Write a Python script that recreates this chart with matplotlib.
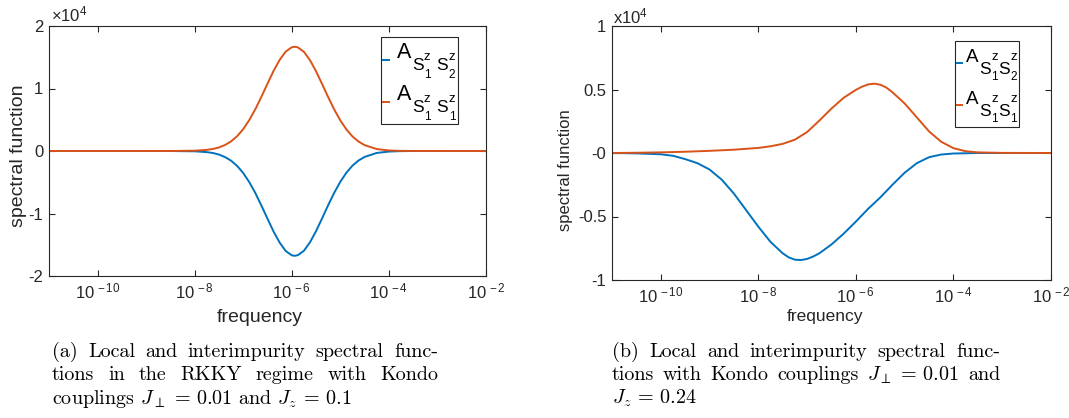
import matplotlib
matplotlib.use("Agg")
import matplotlib.pyplot as plt
import numpy as np
from matplotlib.ticker import NullLocator
from matplotlib.patches import Rectangle

plt.rcParams['font.family'] = ['Liberation Sans', 'DejaVu Sans']
plt.rcParams['mathtext.fontset'] = 'custom'
plt.rcParams['mathtext.rm'] = 'Liberation Sans'
plt.rcParams['mathtext.it'] = 'Liberation Sans'
plt.rcParams['mathtext.bf'] = 'Liberation Sans:bold'

# ---------------- data ----------------
# panel (a): log10(frequency) and values in units of 1e4
exp_a = [-11, -10, -9, -8.5, -8, -7.75, -7.625, -7.5, -7.375, -7.25, -7.125, -7, -6.875,
         -6.75, -6.625, -6.5, -6.375, -6.25, -6.125, -6, -5.94, -5.875, -5.75, -5.625,
         -5.5, -5.375, -5.25, -5.125, -5, -4.875, -4.75, -4.625, -4.5, -4.25, -4,
         -3.75, -3.5, -3, -2]
a_local = [0, 0, 0, 0.0002, 0.005, 0.018, 0.032, 0.057, 0.096, 0.154, 0.237, 0.350, 0.496,
           0.669, 0.869, 1.077, 1.282, 1.457, 1.591, 1.660, 1.668, 1.658, 1.587, 1.453,
           1.275, 1.071, 0.861, 0.663, 0.489, 0.345, 0.233, 0.151, 0.094, 0.031, 0.009,
           0.002, 0.0004, 0, 0]
a_inter = [0, 0, 0, -0.0002, -0.005, -0.018, -0.032, -0.057, -0.097, -0.155, -0.239, -0.352, -0.499,
           -0.673, -0.874, -1.083, -1.289, -1.465, -1.600, -1.669, -1.677, -1.667, -1.596, -1.461,
           -1.282, -1.077, -0.866, -0.667, -0.492, -0.347, -0.234, -0.152, -0.095, -0.031, -0.009,
           -0.002, -0.0004, 0, 0]

# panel (b)
exp_b_local = [-11, -10.5, -10, -9.5, -9, -8.5, -8, -7.75, -7.5, -7.25, -7, -6.75, -6.5,
               -6.25, -6, -5.875, -5.75, -5.625, -5.5, -5.375, -5.25, -5, -4.75, -4.5, -4.25,
               -4, -3.75, -3.5, -3, -2]
b_local = [0.0, 0.002, 0.005, 0.010, 0.017, 0.026, 0.040, 0.053, 0.072, 0.105, 0.165, 0.255,
           0.35, 0.435, 0.497, 0.522, 0.540, 0.546, 0.538, 0.515, 0.478, 0.39, 0.28, 0.17, 0.088,
           0.038, 0.014, 0.005, 0.001, 0.0]
exp_b_inter = [-11, -10.5, -10, -9.75, -9.5, -9.25, -9, -8.75, -8.5, -8.25, -8, -7.75, -7.5,
               -7.375, -7.25, -7.125, -7, -6.875, -6.75, -6.5, -6.25, -6, -5.75, -5.5, -5.25,
               -5, -4.75, -4.5, -4.25, -4, -3.5, -2]
b_inter = [0, -0.003, -0.01, -0.022, -0.048, -0.08, -0.13, -0.21, -0.32, -0.45, -0.58, -0.70,
           -0.79, -0.822, -0.840, -0.843, -0.834, -0.815, -0.79, -0.72, -0.635, -0.54, -0.44,
           -0.35, -0.25, -0.155, -0.08, -0.033, -0.012, -0.004, 0, 0]

xtick_exps = [-10, -8, -6, -4, -2]
xtick_labels = [r'$10^{\,-10}$', r'$10^{\,-8}$', r'$10^{\,-6}$', r'$10^{\,-4}$', r'$10^{\,-2}$']
yticks_a = [-2, -1, 0, 1, 2]
yticklabels_a = ['-2', '-1', '0', '1', '2']
yticks_b = [-1, -0.5, 0, 0.5, 1]
yticklabels_b = ['-1', '-0.5', '-0', '0.5', '1']
# legend labels: A_{S^z_1 S^z_2} and A_{S^z_1 S^z_1}
legend_sub_inter = ['1', '2']
legend_sub_local = ['1', '1']

BLUE = '#0072BD'
ORANGE = '#D95319'
DARK = '#262626'
W, H = 1069, 418

fig = plt.figure(figsize=(W / 100, H / 100), dpi=100)


def ax_from_px(x0, x1, ytop, ybot):
    return fig.add_axes([x0 / W, (H - ybot) / H, (x1 - x0) / W, (ybot - ytop) / H])


def style(ax, fs):
    ax.set_xscale('log')
    ax.set_xlim(1e-11, 1e-2)
    ax.set_xticks([10.0 ** e for e in xtick_exps])
    ax.set_xticklabels(xtick_labels)
    ax.xaxis.set_minor_locator(NullLocator())
    ax.tick_params(which='both', direction='in', top=True, right=True, length=4,
                   width=0.8, colors=DARK, labelsize=fs, pad=4)
    for s in ax.spines.values():
        s.set_color(DARK)
        s.set_linewidth(0.8)


# ---------------- panel (a) ----------------
ax1 = ax_from_px(49, 486, 26, 276)
fa = 10.0 ** np.array(exp_a)
ax1.plot(fa, np.array(a_inter) * 1e4, color=BLUE, lw=1.4)
ax1.plot(fa, np.array(a_local) * 1e4, color=ORANGE, lw=1.4)
style(ax1, 12)
ax1.set_ylim(-2e4, 2e4)
ax1.set_yticks([v * 1e4 for v in yticks_a])
ax1.set_yticklabels(yticklabels_a)
ax1.set_ylabel('spectral function', fontsize=14, color=DARK)
ax1.yaxis.set_label_coords(-0.05, 0.48)
ax1.set_xlabel('frequency', fontsize=14, color=DARK)
ax1.xaxis.set_label_coords(0.483, -0.13)
ax1.text(0.004, 1.008, r'$\times10^{4}$', transform=ax1.transAxes, fontsize=12,
         color=DARK, ha='left', va='bottom')

# ---------------- panel (b) ----------------
ax2 = ax_from_px(612, 1051, 26, 280)
ax2.plot(10.0 ** np.array(exp_b_inter), np.array(b_inter) * 1e4, color=BLUE, lw=1.4)
ax2.plot(10.0 ** np.array(exp_b_local), np.array(b_local) * 1e4, color=ORANGE, lw=1.4)
style(ax2, 12)
ax2.set_ylim(-1e4, 1e4)
ax2.set_yticks([v * 1e4 for v in yticks_b])
ax2.set_yticklabels(yticklabels_b)
ax2.set_ylabel('spectral function', fontsize=12, color=DARK)
ax2.yaxis.set_label_coords(-0.089, 0.433)
ax2.set_xlabel('frequency', fontsize=12.5, color=DARK)
ax2.xaxis.set_label_coords(0.485, -0.115)
ax2.text(0.002, 1.0, r'x10$^{4}$', transform=ax2.transAxes, fontsize=12,
         color=DARK, ha='left', va='bottom')

# ---------------- overlay in pixel coordinates (legends, captions) ----------------
ov = fig.add_axes([0, 0, 1, 1], zorder=10)
ov.set_xlim(0, W)
ov.set_ylim(H, 0)
ov.axis('off')
ov.patch.set_alpha(0)
renderer = fig.canvas.get_renderer()


def tw(t):
    return t.get_window_extent(renderer).width


def comp_label(x, base, subs, p, gap):
    tA = ov.text(x, base, 'A', fontsize=p['A'], color='black', va='baseline', ha='left')
    xc = x + tw(tA) + 0.5
    for d in subs:
        tS = ov.text(xc, base + p['dS'], 'S', fontsize=p['S'], color='black',
                     va='baseline', ha='left')
        xr = xc + tw(tS) + 0.5
        tz = ov.text(xr, base + p['dz'], 'z', fontsize=p['z'], color='black',
                     va='baseline', ha='left')
        td = ov.text(xr, base + p['dd'], d, fontsize=p['d'], color='black',
                     va='baseline', ha='left')
        xc = max(xr + tw(tz), xr + tw(td)) + gap


def manual_legend(box, entries, ax_x, hx, hy0, step, p, gap):
    x0, y0, x1, y1 = box
    ov.add_patch(Rectangle((x0, y0), x1 - x0, y1 - y0, facecolor='white',
                           edgecolor=DARK, lw=0.8, zorder=1))
    for i, (color, subs) in enumerate(entries):
        hy = hy0 + i * step
        ov.plot(hx, [hy, hy], color=color, lw=1.4, solid_capstyle='butt', zorder=2)
        comp_label(ax_x, hy + p['dA'], subs, p, gap)


manual_legend((380.5, 37, 457.5, 124),
              [(BLUE, legend_sub_inter), (ORANGE, legend_sub_local)],
              397, [381.5, 390], 60, 42,
              dict(A=15.5, S=12.5, z=9.5, d=8.5, dA=-1.5, dS=12, dz=1.5, dd=19), 6)
manual_legend((954.5, 41, 1019, 127),
              [(BLUE, legend_sub_inter), (ORANGE, legend_sub_local)],
              966, [955.5, 963], 63.3, 42,
              dict(A=13.5, S=12.5, z=9.5, d=8.5, dA=-1.3, dS=12.5, dz=-1.5, dd=18), 0.5)

# ---------------- captions ----------------
CAP_FS = 14.5


def cap_text(x, y, s):
    return ov.text(x, y, s, fontsize=CAP_FS, family='cmr10', math_fontfamily='cm',
                   ha='left', va='baseline', color='black')


def justified(words, x0, x1, y):
    ts = [cap_text(x0, y, w) for w in words]
    ws = [tw(t) for t in ts]
    gap = (x1 - x0 - sum(ws)) / (len(words) - 1)
    x = x0
    for t, w in zip(ts, ws):
        t.set_x(x)
        x += w + gap


cap_a = [["(a)", "Local", "and", "interimpurity", "spectral", "func-"],
         ["tions", "in", "the", "RKKY", "regime", "with", "Kondo"]]
cap_a_last = r"couplings $J_{\perp}\,=\,0.01$ and $J_z\,=\,0.1$"
cap_b = [["(b)", "Local", "and", "interimpurity", "spectral", "func-"],
         ["tions", "with", "Kondo", "couplings", r"$J_{\perp}\,=\,0.01$", "and"]]
cap_b_last = r"$J_z\,=\,0.24$"

base_y = [357, 380.5, 404]
justified(cap_a[0], 52, 438, base_y[0])
justified(cap_a[1], 52, 438, base_y[1])
cap_text(52, base_y[2], cap_a_last)
justified(cap_b[0], 612, 1000, base_y[0])
justified(cap_b[1], 612, 1000, base_y[1])
cap_text(612, base_y[2], cap_b_last)

fig.savefig('out.png', dpi=100)
